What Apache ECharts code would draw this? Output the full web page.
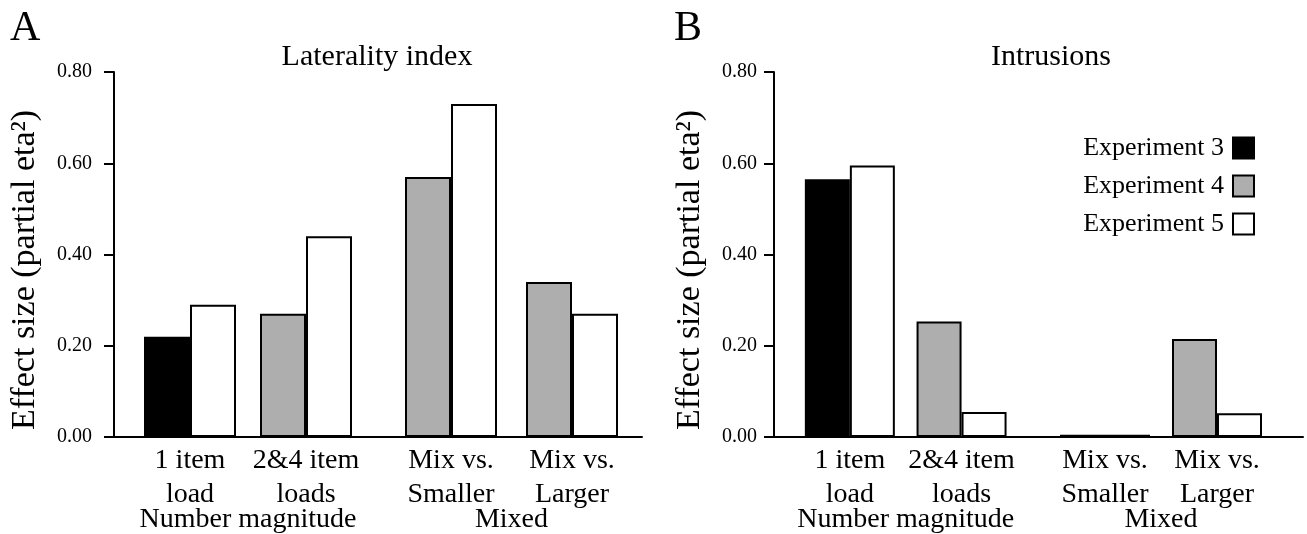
<!DOCTYPE html>
<html><head><meta charset="utf-8">
<script src="https://cdn.jsdelivr.net/npm/echarts@6/dist/echarts.min.js"></script>
<style>html,body{margin:0;padding:0;background:#fff}#c{width:1307px;height:534px}</style>
</head><body><div id="c"></div>
<script>
// ---- data ----
const categories = ['1 item\nload', '2&4 item\nloads', 'Mix vs.\nSmaller', 'Mix vs.\nLarger'];
const groupNames = ['Number magnitude', 'Mixed'];
const seriesNames = ['Experiment 3', 'Experiment 4', 'Experiment 5'];
const yTickValues = [0, 0.2, 0.4, 0.6, 0.8];
const panelTitles = ['Laterality index', 'Intrusions'];
const panelLetters = ['A', 'B'];
const yAxisTitle = 'Effect size (partial eta\u00B2)';
// Panel A: Laterality index
const exp3A = [0.22, null, null, null];
const exp4A = [null, 0.27, 0.57, 0.34];
const exp5A = [0.29, 0.44, 0.73, 0.27];
// Panel B: Intrusions
const exp3B = [0.565, null, null, null];
const exp4B = [null, 0.253, 0.005, 0.215];
const exp5B = [0.595, 0.055, 0.005, 0.052];

// ---- styling / layout ----
const FONT = '"Liberation Serif", "Times New Roman", serif';
const colors = ['#000000', '#aeaeae', '#ffffff'];
const TOP = 72, HEIGHT = 365;
const panels = [
  { data: [exp3A, exp4A, exp5A], frame: { left: 114, width: 528 },
    subs: [{ left: 132, width: 232 }, { left: 390.5, width: 242 }],
    barWidth: 46, labelMargin: 22, titleX: 377, letterX: 10, yTitleX: 25 },
  { data: [exp3B, exp4B, exp5B], frame: { left: 774, width: 529 },
    subs: [{ left: 794, width: 223.4 }, { left: 1049, width: 224 }],
    barWidth: 45, labelMargin: 17, titleX: 1051, letterX: 674, yTitleX: 690 }
];

const grid = [], xAxis = [], yAxis = [], series = [], graphic = [];
panels.forEach((p, pi) => {
  // frame grid: y axis + baseline
  const fi = grid.length;
  grid.push({ left: p.frame.left, width: p.frame.width, top: TOP, height: HEIGHT, outerBoundsMode: 'none', containLabel: false });
  xAxis.push({ type: 'category', gridIndex: fi, data: [''],
    axisLine: { lineStyle: { color: '#000', width: 2 } },
    axisTick: { show: false }, axisLabel: { show: false }, splitLine: { show: false } });
  yAxis.push({ type: 'value', gridIndex: fi, min: yTickValues[0], max: yTickValues[yTickValues.length - 1], interval: 0.2,
    axisLine: { show: true, lineStyle: { color: '#000', width: 2 } },
    axisTick: { show: true, inside: false, length: 10, lineStyle: { color: '#000', width: 2 } },
    axisLabel: { formatter: v => v.toFixed(2), margin: p.labelMargin, fontSize: 20, color: '#000', fontFamily: FONT },
    splitLine: { show: false } });
  // sub grids holding the bars
  p.subs.forEach((s, si) => {
    const gi = grid.length;
    grid.push({ left: s.left, width: s.width, top: TOP, height: HEIGHT, outerBoundsMode: 'none', containLabel: false });
    xAxis.push({ type: 'category', gridIndex: gi, data: categories.slice(si * 2, si * 2 + 2),
      axisLine: { show: false }, axisTick: { show: false },
      axisLabel: { interval: 0, margin: 7, fontSize: 28, lineHeight: 34, color: '#000', fontFamily: FONT },
      name: groupNames[si], nameLocation: 'middle', nameGap: 69, nameMoveOverlap: false,
      nameTextStyle: { fontSize: 28, lineHeight: 28, color: '#000', fontFamily: FONT } });
    yAxis.push({ type: 'value', gridIndex: gi, min: 0, max: 0.8, show: false });
    seriesNames.forEach((nm, k) => {
      series.push({ type: 'bar', name: nm, xAxisIndex: gi, yAxisIndex: gi,
        stack: (k < 2 ? 'L' : 'R') + '_' + pi + '_' + si,
        barWidth: p.barWidth, barGap: '0%',
        data: p.data[k].slice(si * 2, si * 2 + 2),
        itemStyle: { color: colors[k], borderColor: '#000', borderWidth: 2 },
        silent: true });
    });
  });
  graphic.push({ type: 'text', x: p.letterX, y: 29,
    style: { text: panelLetters[pi], font: '42px ' + FONT, fill: '#000', align: 'left', verticalAlign: 'middle' } });
  graphic.push({ type: 'text', x: p.titleX, y: 57,
    style: { text: panelTitles[pi], font: '30px ' + FONT, fill: '#000', align: 'center', verticalAlign: 'middle' } });
  graphic.push({ type: 'text', x: p.yTitleX, y: 270, rotation: Math.PI / 2,
    style: { text: yAxisTitle, font: '34px ' + FONT, fill: '#000', align: 'center', verticalAlign: 'middle' } });
});

const chart = echarts.init(document.getElementById('c'), null, { renderer: 'canvas' });
chart.setOption({
  animation: false,
  backgroundColor: '#fff',
  textStyle: { fontFamily: FONT },
  grid, xAxis, yAxis, series, graphic,
  legend: { data: seriesNames, orient: 'vertical', right: 47, top: 130, align: 'right',
    icon: 'rect', itemWidth: 21, itemHeight: 21, itemGap: 12, selectedMode: false,
    textStyle: { fontSize: 26, lineHeight: 21, color: '#000', fontFamily: FONT, padding: [0, 4, 0, 0] } }
});
</script></body></html>
